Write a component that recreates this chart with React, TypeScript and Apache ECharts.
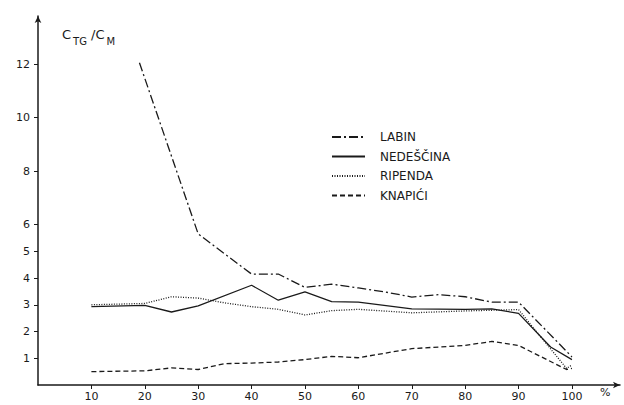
import React, { useEffect, useRef } from "react";
import * as echarts from "echarts";

const seriesNames = ["LABIN", "NEDEŠČINA", "RIPENDA", "KNAPIĆI"];
const labin: [number, number][] = [[19, 12.05], [30, 5.65], [40, 4.15], [45, 4.15], [50, 3.65], [55, 3.77], [60, 3.63], [65, 3.48], [70, 3.29], [75, 3.38], [80, 3.3], [85, 3.1], [90, 3.1], [100, 1.05]];
const nedescina: [number, number][] = [[10, 2.93], [20, 2.98], [25, 2.73], [30, 2.96], [40, 3.73], [45, 3.17], [50, 3.48], [55, 3.12], [60, 3.1], [70, 2.85], [80, 2.83], [85, 2.85], [90, 2.68], [96, 1.42], [100, 0.95]];
const ripenda: [number, number][] = [[10, 3.0], [20, 3.05], [25, 3.3], [30, 3.25], [35, 3.07], [40, 2.93], [45, 2.83], [50, 2.62], [55, 2.78], [60, 2.83], [70, 2.7], [80, 2.77], [90, 2.82], [96, 1.35], [99, 0.62], [100, 0.75]];
const knapici: [number, number][] = [[10, 0.5], [20, 0.53], [25, 0.64], [30, 0.58], [35, 0.8], [40, 0.82], [45, 0.86], [50, 0.95], [55, 1.07], [60, 1.02], [70, 1.36], [80, 1.48], [85, 1.63], [90, 1.48], [99, 0.58], [100, 0.62]];
const yTicks = [1, 2, 3, 4, 5, 6, 8, 10, 12];
const xTicks = [10, 20, 30, 40, 50, 60, 70, 80, 90, 100];

const INK = "#1a1a1a";
const FONT = "DejaVu Sans";

export default function App() {
  const ref = useRef<HTMLDivElement>(null);
  useEffect(() => {
    const chart = echarts.init(ref.current!, undefined, { renderer: "svg" });
    const dashes: any[] = [[9, 3, 2, 3], "solid", [1, 1.5], [5, 3]];
    const datas = [labin, nedescina, ripenda, knapici];
    chart.setOption({
      animation: false,
      backgroundColor: "#fff",
      grid: { left: 38, right: 4, top: 16, bottom: 20 },
      xAxis: {
        type: "value",
        min: 0,
        max: 109,
        splitLine: { show: false },
        axisLine: { lineStyle: { color: INK, width: 1.5 }, symbol: ["none", "arrow"], symbolSize: [5, 7] },
        axisTick: { customValues: xTicks, length: 4, lineStyle: { color: INK } },
        axisLabel: { customValues: xTicks, color: INK, fontFamily: FONT, fontSize: 11, margin: 6 },
      },
      yAxis: {
        type: "value",
        min: 0,
        max: 13.8,
        splitLine: { show: false },
        axisLine: { show: true, lineStyle: { color: INK, width: 1.5 }, symbol: ["none", "arrow"], symbolSize: [5, 7] },
        axisTick: { show: true, customValues: yTicks, length: 4, lineStyle: { color: INK } },
        axisLabel: { customValues: yTicks, color: INK, fontFamily: FONT, fontSize: 11, margin: 8 },
      },
      legend: {
        orient: "vertical",
        left: 326,
        top: 126,
        itemWidth: 33,
        itemHeight: 10,
        itemGap: 7.5,
        data: seriesNames,
        itemStyle: { opacity: 0 },
        textStyle: { color: INK, fontFamily: FONT, fontSize: 12, padding: [0, 0, 0, 10] },
      },
      series: seriesNames.map((n, i) => ({
        name: n,
        type: "line",
        data: datas[i],
        symbol: "none",
        showSymbol: false,
        lineStyle: { color: INK, width: 1.3, type: dashes[i] },
        itemStyle: { color: INK },
      })),
      graphic: [
        {
          type: "text",
          left: 62,
          top: 28,
          style: {
            text: "{c|C}{s|TG}{c| /C}{s|M}",
            rich: {
              c: { fontFamily: FONT, fontSize: 13, fill: INK, verticalAlign: "top" },
              s: { fontFamily: FONT, fontSize: 10, fill: INK, padding: [8, 0, 0, 2], verticalAlign: "top" },
            },
          },
        },
        {
          type: "text",
          left: 600,
          top: 387,
          style: { text: "%", fontFamily: FONT, fontSize: 11, fill: INK },
        },
      ],
    });
    return () => chart.dispose();
  }, []);
  return <div ref={ref} style={{ position: "absolute", left: 0, top: 0, width: 624, height: 405 }} />;
}
